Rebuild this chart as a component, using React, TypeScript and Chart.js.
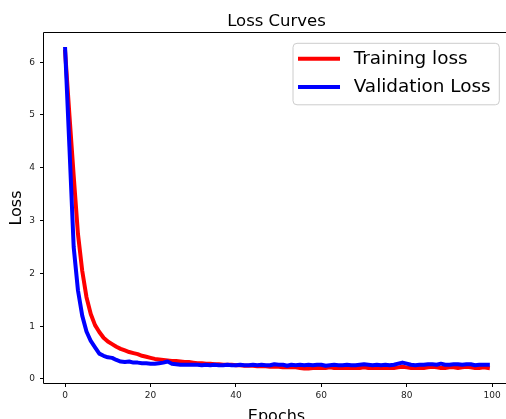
import { useEffect, useRef } from "react";
import { Chart, registerables } from "chart.js";

Chart.register(...registerables);

const FONT = '"DejaVu Sans", "Liberation Sans", sans-serif';

const chartTitle = "Loss Curves";
const xAxisTitle = "Epochs";
const yAxisTitle = "Loss";
const seriesLabels = ["Training loss", "Validation Loss"];
const xTickValues = [0, 20, 40, 60, 80, 100];
const yTickValues = [0, 1, 2, 3, 4, 5, 6];

const trainingLoss = [
  6.2, 5.0, 3.85, 2.75, 2.05, 1.55, 1.23, 1.02, 0.89, 0.78,
  0.71, 0.66, 0.61, 0.57, 0.54, 0.51, 0.49, 0.47, 0.44, 0.42,
  0.4, 0.38, 0.37, 0.36, 0.35, 0.34, 0.34, 0.33, 0.32, 0.32,
  0.31, 0.3, 0.3, 0.29, 0.29, 0.28, 0.28, 0.27, 0.27, 0.27,
  0.26, 0.26, 0.25, 0.25, 0.25, 0.24, 0.24, 0.24, 0.23, 0.23,
  0.23, 0.22, 0.22, 0.22, 0.22, 0.21, 0.2, 0.2, 0.21, 0.21,
  0.21, 0.21, 0.22, 0.21, 0.21, 0.21, 0.21, 0.21, 0.21, 0.21,
  0.22, 0.21, 0.21, 0.21, 0.21, 0.21, 0.21, 0.21, 0.22, 0.23,
  0.22, 0.21, 0.21, 0.21, 0.21, 0.22, 0.23, 0.22, 0.21, 0.21,
  0.22, 0.22, 0.21, 0.22, 0.23, 0.22, 0.21, 0.21, 0.22, 0.21,
];

const validationLoss = [
  6.25, 4.4, 2.5, 1.68, 1.2, 0.9, 0.72, 0.6, 0.48, 0.44,
  0.41, 0.4, 0.36, 0.33, 0.32, 0.33, 0.31, 0.31, 0.3, 0.3,
  0.29, 0.29, 0.3, 0.31, 0.33, 0.29, 0.28, 0.27, 0.27, 0.27,
  0.27, 0.27, 0.26, 0.27, 0.26, 0.27, 0.26, 0.26, 0.27, 0.26,
  0.26, 0.27, 0.26, 0.26, 0.27, 0.26, 0.27, 0.26, 0.26, 0.28,
  0.27, 0.27, 0.25, 0.27, 0.26, 0.27, 0.26, 0.27, 0.26, 0.27,
  0.27, 0.25, 0.26, 0.27, 0.26, 0.26, 0.27, 0.26, 0.26, 0.27,
  0.28, 0.27, 0.26, 0.27, 0.26, 0.27, 0.26, 0.27, 0.29, 0.31,
  0.29, 0.27, 0.26, 0.27, 0.27, 0.28, 0.28, 0.27, 0.29, 0.27,
  0.27, 0.28, 0.28, 0.27, 0.28, 0.28, 0.26, 0.27, 0.27, 0.27,
];

const framePlugin = {
  id: "frame",
  afterDatasetsDraw(chart: any) {
    const { ctx, chartArea } = chart;
    ctx.save();
    ctx.strokeStyle = "#000";
    ctx.lineWidth = 1;
    const l = Math.round(chartArea.left) - 0.5;
    const t = Math.round(chartArea.top) - 0.5;
    const r = Math.round(chartArea.right) + 0.5;
    const b = Math.round(chartArea.bottom) + 0.5;
    ctx.beginPath();
    ctx.moveTo(r, t);
    ctx.lineTo(l, t);
    ctx.lineTo(l, b);
    ctx.lineTo(r, b);
    ctx.stroke();
    ctx.restore();
  },
};

const legendPlugin = {
  id: "insideLegend",
  afterDraw(chart: any) {
    const { ctx, chartArea } = chart;
    ctx.save();
    ctx.font = `18.4px ${FONT}`;
    const items = chart.data.datasets.map((d: any) => ({ label: d.label, color: d.borderColor }));
    const textW = Math.max(...items.map((i: any) => ctx.measureText(i.label).width));
    const padL = 5, sample = 42, gap = 13.7, padR = 8.6;
    const w = padL + sample + gap + textW + padR;
    const h = 61.5;
    const x = chartArea.right - 9.7 - w;
    const y = chartArea.top + 10.3;
    ctx.beginPath();
    ctx.roundRect(x, y, w, h, 4);
    ctx.fillStyle = "rgba(255,255,255,0.8)";
    ctx.fill();
    ctx.strokeStyle = "#cccccc";
    ctx.lineWidth = 1;
    ctx.stroke();
    items.forEach((it: any, i: number) => {
      const cy = y + 15.4 + i * 28.3;
      ctx.beginPath();
      ctx.moveTo(x + padL, cy);
      ctx.lineTo(x + padL + sample, cy);
      ctx.strokeStyle = it.color;
      ctx.lineWidth = 4;
      ctx.lineCap = "butt";
      ctx.stroke();
      ctx.fillStyle = "#000";
      ctx.textBaseline = "middle";
      ctx.textAlign = "left";
      ctx.fillText(it.label, x + padL + sample + gap, cy + 0.5);
    });
    ctx.restore();
  },
};

export default function App() {
  const ref = useRef<HTMLCanvasElement | null>(null);

  useEffect(() => {
    if (!ref.current) return;
    const chart = new Chart(ref.current, {
      type: "line",
      data: {
        datasets: [
          {
            label: seriesLabels[0],
            data: trainingLoss.map((v, i) => ({ x: i, y: v })),
            borderColor: "#ff0000",
            backgroundColor: "#ff0000",
            borderWidth: 4,
            pointRadius: 0,
            borderJoinStyle: "round",
            borderCapStyle: "square",
            tension: 0,
            order: 2,
          },
          {
            label: seriesLabels[1],
            data: validationLoss.map((v, i) => ({ x: i, y: v })),
            borderColor: "#0000ff",
            backgroundColor: "#0000ff",
            borderWidth: 4,
            pointRadius: 0,
            borderJoinStyle: "round",
            borderCapStyle: "square",
            tension: 0,
            order: 1,
          },
        ],
      },
      options: {
        animation: false,
        responsive: false,
        devicePixelRatio: 1,
        layout: { padding: { left: 0, right: 31, top: 0, bottom: 0 } },
        plugins: {
          legend: { display: false },
          tooltip: { enabled: false },
          title: {
            display: true,
            text: chartTitle,
            fullSize: false,
            color: "#000",
            font: { family: FONT, size: 16.5, weight: "normal", lineHeight: 1.2 },
            padding: { top: 12.1, bottom: 1.1 },
          },
        },
        scales: {
          x: {
            type: "linear",
            min: -4.95,
            max: 103.95,
            afterBuildTicks: (scale: any) => {
              scale.ticks = xTickValues.map((v) => ({ value: v }));
            },
            afterFit: (scale: any) => {
              scale.height = 57;
              scale.paddingRight = 0;
              scale.paddingLeft = 0;
            },
            grid: { drawOnChartArea: false, drawTicks: true, tickLength: 4, color: "#000" },
            border: { display: false },
            ticks: {
              color: "#222",
              font: { family: FONT, size: 9 },
              padding: 3,
              maxRotation: 0,
              callback: (v: any) => String(v),
            },
            title: {
              display: true,
              text: xAxisTitle,
              color: "#000",
              font: { family: FONT, size: 16, lineHeight: 1.2 },
              padding: { top: 0, bottom: 13.4 },
            },
          },
          y: {
            type: "linear",
            min: -0.076,
            max: 6.553,
            afterBuildTicks: (scale: any) => {
              scale.ticks = yTickValues.map((v) => ({ value: v }));
            },
            afterFit: (scale: any) => {
              scale.width = 44;
              scale.paddingTop = 0;
              scale.paddingBottom = 0;
            },
            grid: { drawOnChartArea: false, drawTicks: true, tickLength: 4, color: "#000" },
            border: { display: false },
            ticks: {
              color: "#222",
              font: { family: FONT, size: 9 },
              padding: 5,
              callback: (v: any) => String(v),
            },
            title: {
              display: true,
              text: yAxisTitle,
              color: "#000",
              font: { family: FONT, size: 16, lineHeight: 1.2 },
              padding: { top: 7, bottom: 0 },
            },
          },
        },
      },
      plugins: [framePlugin, legendPlugin],
    } as any);
    return () => chart.destroy();
  }, []);

  return (
    <div
      style={{
        position: "absolute",
        left: 0,
        top: 0,
        width: 506,
        height: 419,
        overflow: "hidden",
        background: "#fff",
      }}
    >
      <canvas ref={ref} width={540} height={440} style={{ width: 540, height: 440, display: "block" }} />
    </div>
  );
}
